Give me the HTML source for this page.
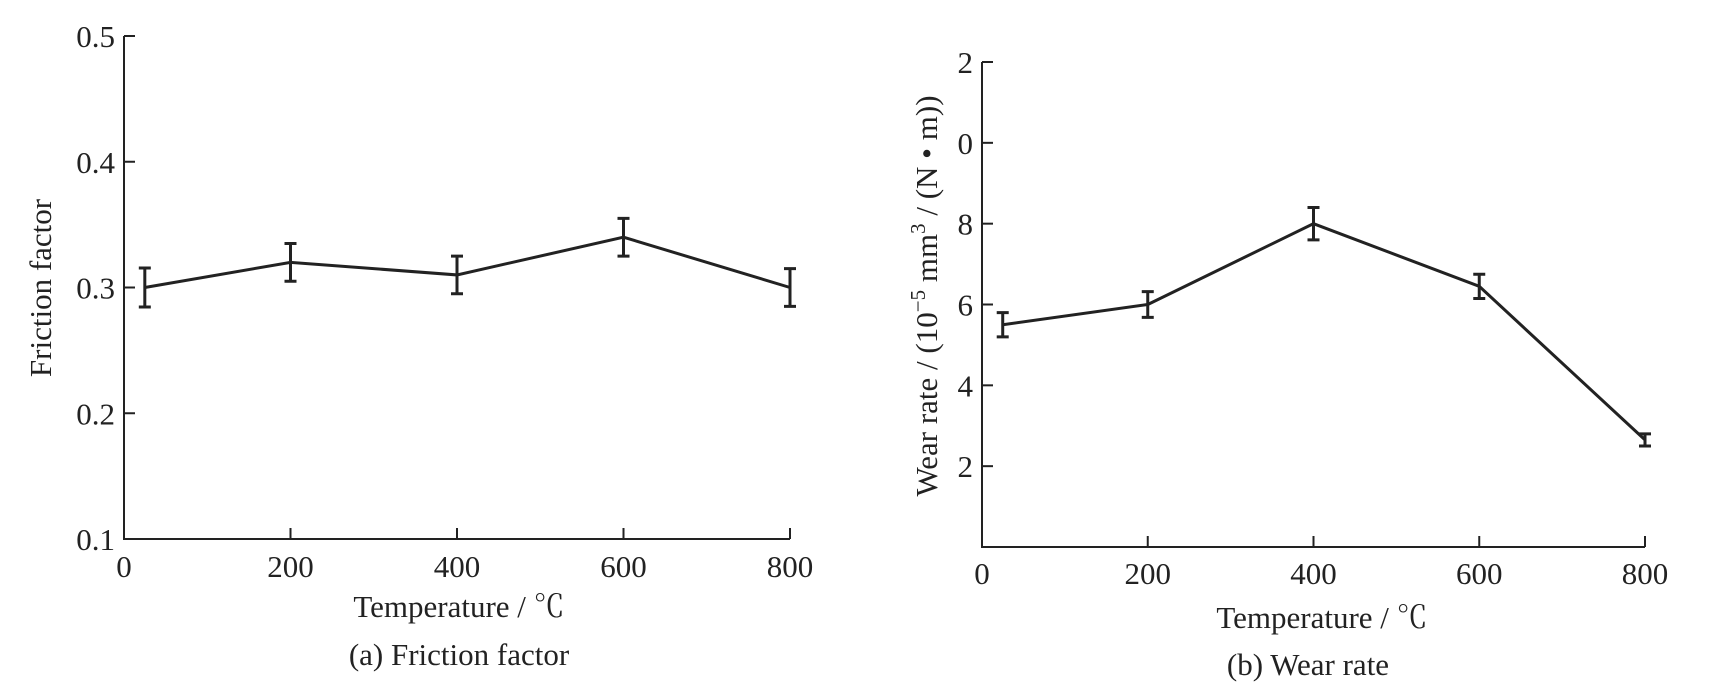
<!DOCTYPE html>
<html><head><meta charset="utf-8"><style>
body{margin:0;background:#fff}
svg text{font-family:"Liberation Serif","Noto Serif CJK SC",serif;fill:#222}
</style></head><body>
<svg id="s" width="1714" height="693" xmlns="http://www.w3.org/2000/svg"></svg>
<script>
const temps=[25,200,400,600,800];
const frictionVals=[0.30,0.32,0.31,0.34,0.30];
const frictionErr=[0.0155,0.015,0.015,0.015,0.015];
const frictionTicks=[0.1,0.2,0.3,0.4,0.5];
const frictionTickLabels=["0.1","0.2","0.3","0.4","0.5"];
const wearVals=[5.5,6.0,8.0,6.45,2.65];
const wearErr=[0.3,0.32,0.4,0.3,0.15];
const wearTicks=[2,4,6,8,10,12];
const wearTickLabels=["2","4","6","8","0","2"];
const xTicks=[0,200,400,600,800];
const xTickLabels=["0","200","400","600","800"];
const NS="http://www.w3.org/2000/svg";
const FS=31;
const svg=document.getElementById('s');
function el(t,a,p){const e=document.createElementNS(NS,t);for(const k in a)e.setAttribute(k,a[k]);(p||svg).appendChild(e);return e;}
function chart(o){
  const g=el('g',{});
  
  
  const X=v=>o.x0+(v-o.xmin)/(o.xmax-o.xmin)*(o.x1-o.x0);
  const Y=v=>o.y0-(v-o.ymin)/(o.ymax-o.ymin)*(o.y0-o.y1);
  const ax=el('path',{d:`M${o.x0} ${o.ytop} V${o.y0} H${X(800)}`,stroke:'#222','stroke-width':2,fill:'none'},g);
  
  
  o.yt.forEach((v,i)=>{
    const t=el('line',{x1:o.x0,x2:o.x0+11,y1:Y(v),y2:Y(v),stroke:'#222','stroke-width':2},g);
    
    
    const l=el('text',{x:o.x0-9,y:Y(v)+11,'font-size':FS,'text-anchor':'end'},g);l.textContent=o.ytl[i];
    
    
  });
  xTicks.forEach((v,i)=>{
    if(v>0){const t=el('line',{x1:X(v),x2:X(v),y1:o.y0,y2:o.y0-11,stroke:'#222','stroke-width':2},g);
    
    }
    const l=el('text',{x:X(v),y:o.xly,'font-size':FS,'text-anchor':'middle'},g);l.textContent=xTickLabels[i];
    
    
  });
  const pts=temps.map((t,i)=>`${X(t)},${Y(o.vals[i])}`).join(' ');
  const ln=el('polyline',{points:pts,stroke:'#222','stroke-width':3,fill:'none'},g);
  
  
  temps.forEach((t,i)=>{
    const x=X(t),a=Y(o.vals[i]+o.err[i]),b=Y(o.vals[i]-o.err[i]);
    const e=el('path',{d:`M${x} ${a} V${b} M${x-6} ${a} H${x+6} M${x-6} ${b} H${x+6}`,stroke:'#222','stroke-width':3,fill:'none'},g);
    
    
  });
  const xt=el('text',{x:o.xtx,y:o.xty,'font-size':FS,'text-anchor':'middle'},g);xt.textContent='Temperature / ℃';
  
  
  const cp=el('text',{x:o.cx,y:o.cy,'font-size':FS,'text-anchor':'middle'},g);cp.textContent=o.cap;
  
  
  const yt=el('text',{transform:`translate(${o.ytx},${o.yty}) rotate(-90)`,'font-size':FS,'text-anchor':'middle'},g);
  
  
  if(o.ytitleHTML){yt.innerHTML=o.ytitleHTML;}else yt.textContent=o.ytitle;
}
chart({name:'friction-chart',x0:124,x1:790,xmin:0,xmax:800,y0:539,y1:36,ytop:36,ymin:0.1,ymax:0.5,
  yt:frictionTicks,ytl:frictionTickLabels,vals:frictionVals,err:frictionErr,xly:577,
  xtx:459,xty:617,cx:459,cy:665,cap:'(a) Friction factor',ytx:51,yty:288,ytitle:'Friction factor'});
chart({name:'wear-chart',x0:982,x1:1645,xmin:0,xmax:800,y0:547,y1:62,ytop:62,ymin:0,ymax:12,
  yt:wearTicks,ytl:wearTickLabels,vals:wearVals,err:wearErr,xly:584,
  xtx:1322,xty:628,cx:1308,cy:675,cap:'(b) Wear rate',ytx:937,yty:296,
  ytitleHTML:'Wear rate / (10<tspan dy="-12" font-size="21">−5</tspan><tspan dy="12"> mm</tspan><tspan dy="-12" font-size="21">3</tspan><tspan dy="12"> / (N • m))</tspan>'});
</script>
</body></html>
